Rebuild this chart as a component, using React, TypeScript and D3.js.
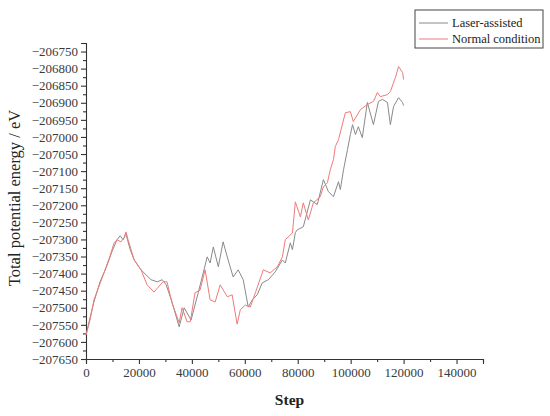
import { useEffect, useRef } from 'react';
import * as d3 from 'd3';

// Laser-assisted (gray) series
const laserSteps = [
  0, 1500, 3000, 5300, 7600, 9800, 11700, 12900, 14000, 15100, 16700, 18200, 20800, 23100,
  24600, 26900, 28800, 30300, 32500, 35200, 37100, 39700, 42400, 44300, 45800, 46900, 48100,
  50000, 51800, 53700, 55600, 57500, 59400, 61300, 62800, 64700, 66600, 68900, 71500, 74200,
  75300, 77200, 78000, 79100, 79800, 82100, 84800, 87400, 89700, 91600, 93500, 95400, 96100,
  97300, 98800, 99900, 100700, 101800, 102900, 104400, 106300, 108600, 110500, 112000, 113900,
  115000, 116200, 118100, 119600, 120000,
];
const laserEnergy = [
  -207580, -207530, -207483, -207424, -207383, -207336, -207301, -207289, -207301, -207284,
  -207330, -207360, -207389, -207407, -207418, -207424, -207418, -207433, -207483, -207556,
  -207500, -207536, -207456, -207398, -207351, -207369, -207322, -207380, -207307, -207360,
  -207410, -207389, -207418, -207498, -207477, -207462, -207427, -207418, -207395, -207360,
  -207369, -207310, -207330, -207280, -207272, -207263, -207184, -207198, -207125, -207160,
  -207175, -207131, -207154, -207096, -207037, -206993, -206964, -206993, -206970, -207002,
  -206899, -206964, -206896, -206890, -206899, -206964, -206911, -206885, -206899, -206908,
];

// Normal condition (red) series
const normalSteps = [
  0, 1500, 3000, 6800, 9100, 10600, 11700, 13200, 14400, 15100, 15900, 18200, 20800, 23100,
  25700, 29100, 30600, 32500, 35200, 36300, 38200, 39400, 41200, 43100, 45000, 46900, 48800,
  50700, 53400, 55200, 57100, 58300, 60200, 62100, 64000, 67000, 69600, 72300, 74200, 75300,
  78000, 79100, 81000, 82100, 84000, 85900, 88500, 89700, 91200, 92300, 93500, 94200, 95400,
  98000, 99900, 101000, 103700, 106300, 108600, 110100, 111200, 113900, 115000, 116900, 118100,
  119600, 120000,
];
const normalEnergy = [
  -207580, -207536, -207477, -207398, -207348, -207310, -207301, -207307, -207295, -207278,
  -207301, -207360, -207389, -207433, -207454, -207424, -207424, -207486, -207544, -207500,
  -207541, -207541, -207456, -207448, -207389, -207477, -207483, -207433, -207468, -207462,
  -207548, -207506, -207492, -207498, -207456, -207389, -207398, -207380, -207351, -207301,
  -207281, -207190, -207234, -207193, -207243, -207193, -207175, -207146, -207134, -207096,
  -207066, -207028, -207008, -206929, -206926, -206955, -206920, -206905, -206896, -206870,
  -206882, -206876, -206867, -206826, -206794, -206811, -206832,
];

const xTicks = [0, 20000, 40000, 60000, 80000, 100000, 120000, 140000];
const yTicks = d3.range(-207650, -206749, 50);

const seriesNames = ['Laser-assisted', 'Normal condition'];
const seriesColors = ['#8a8a8a', '#f07a7a'];

const serif = '"Liberation Serif", "Times New Roman", serif';

const App = () => {
  const ref = useRef<SVGSVGElement>(null);

  const width = 550;
  const height = 416;
  const margin = { top: 43, right: 67, bottom: 57, left: 86 };

  useEffect(() => {
    const svg = d3.select(ref.current);
    svg.selectAll('*').remove();

    const x = d3
      .scaleLinear()
      .domain([0, 150000])
      .range([margin.left, width - margin.right]);
    const y = d3
      .scaleLinear()
      .domain([-207650, -206725])
      .range([height - margin.bottom, margin.top]);

    const fmt = (v: number) => String(v).replace('-', '\u2212');

    // x axis, major + minor ticks
    const xAxis = svg
      .append('g')
      .attr('transform', `translate(0,${height - margin.bottom})`)
      .call(d3.axisBottom(x).tickValues(xTicks).tickSize(5).tickPadding(4).tickFormat((d: any) => String(d)));
    svg
      .append('g')
      .attr('transform', `translate(0,${height - margin.bottom})`)
      .call(d3.axisBottom(x).tickValues(d3.range(10000, 150001, 20000)).tickSize(3).tickFormat(() => ''))
      .select('.domain')
      .remove();

    // y axis, major + minor ticks
    const yAxis = svg
      .append('g')
      .attr('transform', `translate(${margin.left},0)`)
      .call(d3.axisLeft(y).tickValues(yTicks).tickSize(5).tickPadding(3).tickFormat((d: any) => fmt(d)));
    svg
      .append('g')
      .attr('transform', `translate(${margin.left},0)`)
      .call(d3.axisLeft(y).tickValues(d3.range(-207625, -206724, 50)).tickSize(3).tickFormat(() => ''))
      .select('.domain')
      .remove();

    svg.selectAll('.domain, .tick line').attr('stroke', '#333').attr('stroke-width', 1.1);
    [xAxis, yAxis].forEach((g) =>
      g
        .selectAll('text')
        .attr('fill', '#3a3a3a')
        .style('font', `13px ${serif}`)
    );

    // lines
    const line = d3
      .line<[number, number]>()
      .x((d) => x(d[0]))
      .y((d) => y(d[1]));

    const laser: [number, number][] = laserSteps.map((s, i) => [s, laserEnergy[i]]);
    const normal: [number, number][] = normalSteps.map((s, i) => [s, normalEnergy[i]]);

    svg
      .append('path')
      .datum(laser)
      .attr('fill', 'none')
      .attr('stroke', seriesColors[0])
      .attr('stroke-width', 1)
      .attr('d', line);
    svg
      .append('path')
      .datum(normal)
      .attr('fill', 'none')
      .attr('stroke', seriesColors[1])
      .attr('stroke-width', 1)
      .attr('d', line);

    // axis titles
    svg
      .append('text')
      .attr('x', (margin.left + width - margin.right) / 2 + 5)
      .attr('y', 405)
      .attr('text-anchor', 'middle')
      .attr('fill', '#222')
      .style('font', `bold 15.5px ${serif}`)
      .text('Step');

    svg
      .append('text')
      .attr('transform', 'translate(20,198) rotate(-90)')
      .attr('text-anchor', 'middle')
      .attr('fill', '#222')
      .style('font', `16.5px ${serif}`)
      .text('Total potential energy / eV');

    // legend
    const legend = svg.append('g');
    legend
      .append('rect')
      .attr('x', 415)
      .attr('y', 10)
      .attr('width', 128)
      .attr('height', 38)
      .attr('fill', 'white')
      .attr('stroke', '#444')
      .attr('stroke-width', 1);
    seriesNames.forEach((name, i) => {
      const ly = 23 + i * 16;
      legend
        .append('line')
        .attr('x1', 419)
        .attr('x2', 448)
        .attr('y1', ly)
        .attr('y2', ly)
        .attr('stroke', seriesColors[i])
        .attr('stroke-width', 1);
      legend
        .append('text')
        .attr('x', 452)
        .attr('y', ly)
        .attr('dy', '0.35em')
        .attr('fill', '#222')
        .style('font', `12.5px ${serif}`)
        .text(name);
    });
  }, []);

  return (
    <svg
      ref={ref}
      width={width}
      height={height}
      style={{ position: 'absolute', left: 0, top: 0, background: 'white' }}
    />
  );
};

export default App;
